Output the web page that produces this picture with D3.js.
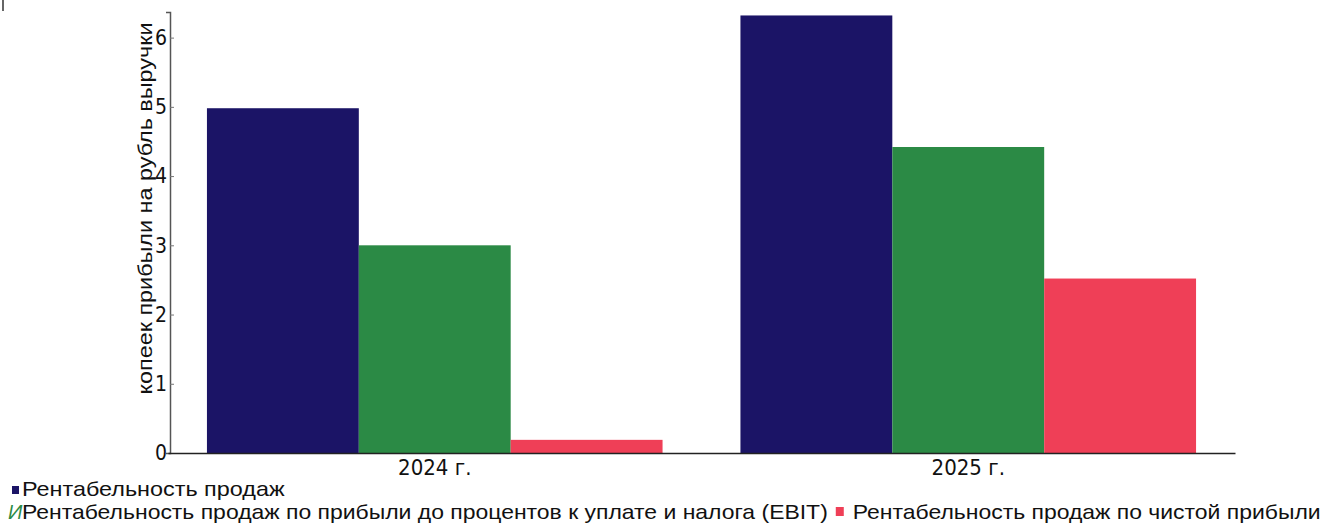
<!DOCTYPE html>
<html>
<head>
<meta charset="utf-8">
<script src="https://cdn.jsdelivr.net/npm/d3@7"></script>
<style>
  body { margin: 0; background: #fff; }
  svg { display: block; }
</style>
</head>
<body>
<svg id="chart" width="1332" height="524"></svg>
<script>
const years = ['2024 г.', '2025 г.'];
const seriesNames = [
    'Рентабельность продаж',
    'Рентабельность продаж по прибыли до процентов к уплате и налога (EBIT)',
    'Рентабельность продаж по чистой прибыли'
];
const salesMargin = [4.98, 6.32];
const ebitMargin = [3.0, 4.42];
const netMargin = [0.19, 2.52];
const yTicks = [0, 1, 2, 3, 4, 5, 6];
const colors = ['#1b1466', '#2b8a45', '#ef3f57'];

const svg = d3.select('#chart');
const margin = { left: 168, right: 97, top: 12, bottom: 71 };
const W = 1332, H = 524;
const stretch = 1.17; // the original text is a little wider than Liberation Sans
const stretch2 = 1.148;

const x0 = d3.scaleBand().domain(years)
    .range([margin.left, W - margin.right])
    .paddingInner(0.146).paddingOuter(0.073);
const x1 = d3.scaleBand().domain(d3.range(seriesNames.length))
    .range([0, x0.bandwidth()]).padding(0);
const y = d3.scaleLinear().domain([0, 6.37]).range([H - margin.bottom, margin.top]);

const series = [salesMargin, ebitMargin, netMargin];

// bars
const groups = svg.selectAll('g.year')
    .data(years)
    .join('g')
    .attr('class', 'year')
    .attr('transform', d => `translate(${x0(d)},0)`);

groups.selectAll('rect')
    .data((d, i) => series.map((s, k) => ({ k, v: s[i] })))
    .join('rect')
    .attr('x', d => x1(d.k))
    .attr('width', x1.bandwidth())
    .attr('y', d => y(d.v))
    .attr('height', d => y(0) - y(d.v))
    .attr('fill', d => colors[d.k]);

// axes
const yAxis = d3.axisLeft(y).tickValues(yTicks).tickSize(4).tickFormat(d3.format('d'));
const yG = svg.append('g').attr('transform', `translate(${margin.left + 2},0)`).call(yAxis);
yG.select('.domain').attr('stroke', '#555').attr('stroke-width', 1.5);
yG.selectAll('.tick line').attr('stroke', '#777').attr('x2', 4);
yG.selectAll('.tick text')
    .attr('x', -3)
    .style('font-family', '"DejaVu Sans Condensed", "DejaVu Sans", sans-serif')
    .style('font-size', '21px')
    .attr('fill', '#111');

const xAxis = d3.axisBottom(x0).tickSize(0).tickPadding(6);
const xG = svg.append('g').attr('transform', `translate(0,${y(0)})`).call(xAxis);
xG.select('.domain').attr('stroke', '#222').attr('stroke-width', 1.5);
xG.selectAll('.tick text')
    .style('font-family', '"DejaVu Sans Condensed", "DejaVu Sans", sans-serif')
    .style('font-size', '22px')
    .attr('fill', '#111');

// y title
svg.append('text')
    .attr('transform', `translate(145,${(y(0) + margin.top) / 2 - 24}) rotate(-90) scale(${stretch},1)`)
    .attr('text-anchor', 'middle')
    .attr('dy', '0.35em')
    .style('font-family', '"Liberation Sans", Arial, sans-serif')
    .style('font-size', '20px')
    .attr('fill', '#111')
    .text('копеек прибыли на рубль выручки');

// stray mark at top-left
svg.append('line').attr('x1', 3).attr('x2', 3).attr('y1', 0).attr('y2', 11)
    .attr('stroke', '#333').attr('stroke-width', 1.5);

// legend
const legendFont = '"Liberation Sans", Arial, sans-serif';
const legendSize = '20px';

const row1 = svg.append('g').attr('transform', 'translate(12,496)');
row1.append('rect').attr('x', 0).attr('y', -10).attr('width', 7).attr('height', 8).attr('fill', colors[0]);
row1.append('text').attr('transform', `translate(10,0) scale(${stretch},1)`)
    .style('font-family', legendFont).style('font-size', legendSize).attr('fill', '#111')
    .text(seriesNames[0]);

const row2 = svg.append('g').attr('transform', 'translate(8,519)');
row2.append('text').attr('x', 0)
    .style('font-family', legendFont).style('font-size', legendSize).style('font-style', 'italic')
    .attr('fill', colors[1])
    .text('И');
const t2 = row2.append('text').attr('transform', `translate(14,0) scale(${stretch2},1)`)
    .style('font-family', legendFont).style('font-size', legendSize).attr('fill', '#111')
    .text(seriesNames[1]);
const w2 = t2.node().getComputedTextLength() * stretch2;
row2.append('rect').attr('x', 14 + w2 + 8).attr('y', -12).attr('width', 8).attr('height', 9).attr('fill', colors[2]);
row2.append('text').attr('transform', `translate(${14 + w2 + 25},0) scale(${stretch2},1)`)
    .style('font-family', legendFont).style('font-size', legendSize).attr('fill', '#111')
    .text(seriesNames[2]);
</script>
</body>
</html>
